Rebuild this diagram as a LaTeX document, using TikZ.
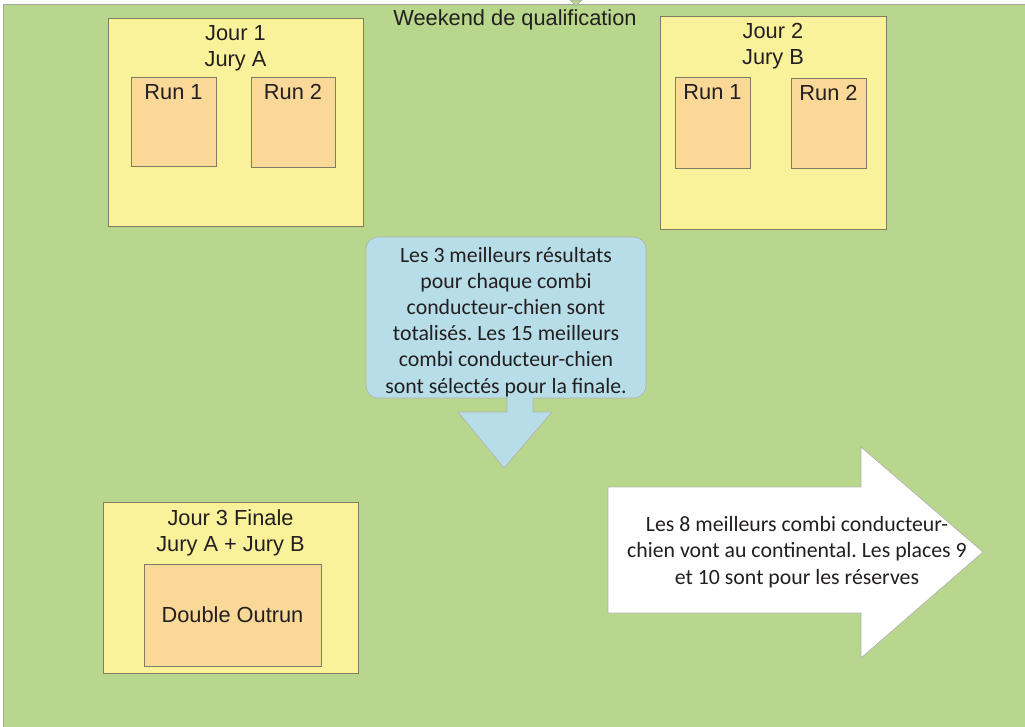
\documentclass[tikz,border=0pt]{standalone}
\usepackage{fontspec}
\setmainfont{Liberation Sans}
\newfontfamily\calibrifont{Carlito}
\usetikzlibrary{positioning}
\frenchspacing
\definecolor{bggreen}{RGB}{185,215,140}
\definecolor{dayyellow}{RGB}{250,241,155}
\definecolor{runorange}{RGB}{250,216,152}
\definecolor{noteblue}{RGB}{183,222,232}
\definecolor{edgegray}{RGB}{125,125,100}
\definecolor{inkgray}{RGB}{35,31,32}

\begin{document}
\begin{tikzpicture}[
  x=0.025cm, y=0.025cm,
  daybox/.style={rectangle, draw=edgegray, fill=dayyellow, line width=0.6pt, inner sep=0pt},
  runbox/.style={rectangle, draw=edgegray, fill=runorange, line width=0.6pt, inner sep=0pt},
  arial/.style={font=\fontsize{15.5}{18.5}\selectfont, text=inkgray, align=center, inner sep=0pt},
  calibri/.style={font=\calibrifont\fontsize{15.5}{18.5}\selectfont, text=inkgray, align=center, inner sep=0pt}
]
\useasboundingbox (0,0) rectangle (1025,-727);
\fill[white] (0,0) rectangle (1025,-727);

% Background
\draw[fill=bggreen, draw=gray!70, line width=0.6pt] (3,-4) rectangle (1026,-728);
\draw[fill=bggreen, draw=gray!70, line width=0.4pt] (570,0) -- (582,0) -- (576,-6) -- cycle;
\node[arial] (title) at (515,-20) {Weekend de qualification};

% Day 1
\node[daybox, minimum width=6.375cm, minimum height=5.2cm] (jour1) at (235.5,-122) {};
\node[arial, anchor=base] (jour1t) at ([yshift=-1.2175cm]jour1.north) {Jour 1\\Jury A};
\node[runbox, minimum width=2.125cm, minimum height=2.225cm] (run1a) at (173.5,-121.5) {};
\node[runbox, minimum width=2.1cm, minimum height=2.25cm] (run2a) at (293,-122) {};
\node[arial, anchor=base] (run1at) at ([yshift=-0.575cm]run1a.north) {Run 1};
\node[arial, anchor=base] (run2at) at ([yshift=-0.575cm]run2a.north) {Run 2};

% Day 2
\node[daybox, minimum width=5.65cm, minimum height=5.325cm] (jour2) at (773,-122.5) {};
\node[arial, anchor=base] (jour2t) at ([yshift=-1.225cm]jour2.north) {Jour 2\\Jury B};
\node[runbox, minimum width=1.875cm, minimum height=2.275cm] (run1b) at (712.5,-122.5) {};
\node[runbox, minimum width=1.875cm, minimum height=2.25cm] (run2b) at (828.5,-123) {};
\node[arial, anchor=base] (run1bt) at ([yshift=-0.575cm]run1b.north) {Run 1};
\node[arial, anchor=base] (run2bt) at ([yshift=-0.575cm]run2b.north) {Run 2};

% Day 3
\node[daybox, minimum width=6.375cm, minimum height=4.275cm] (jour3) at (230.5,-587.5) {};
\node[arial, anchor=base] (jour3t) at ([yshift=-1.25cm]jour3.north) {Jour 3 Finale\\Jury A + Jury B};
\node[runbox, minimum width=4.425cm, minimum height=2.55cm, arial] (outrun) at (232.5,-615) {Double Outrun};

% Callout with down arrow
\draw[fill=noteblue, draw=gray!60, line width=0.5pt]
  (507,-398) -- (378,-398) arc (270:180:0.3cm) -- (366,-249) arc (180:90:0.3cm)
  -- (634,-237) arc (90:0:0.3cm) -- (646,-386) arc (0:-90:0.3cm)
  -- (533,-398) -- (533,-412) -- (552,-412) -- (504,-468) -- (458,-412) -- (507,-412) -- cycle;
\node[calibri, anchor=base] (note) at (506,-393) {Les 3 meilleurs résultats\\pour chaque combi\\conducteur-chien sont\\totalisés. Les 15 meilleurs\\combi conducteur-chien\\sont sélectés pour la finale.};

% Right arrow
\draw[fill=white, draw=gray!60, line width=0.5pt]
  (608,-487) -- (861,-487) -- (861,-447) -- (983,-552) -- (861,-658) -- (861,-613) -- (608,-613) -- cycle;
\node[calibri, anchor=base] (result) at (797,-584) {Les 8 meilleurs combi conducteur-\\chien vont au continental. Les places 9\\et 10 sont pour les réserves};

\end{tikzpicture}
\end{document}
